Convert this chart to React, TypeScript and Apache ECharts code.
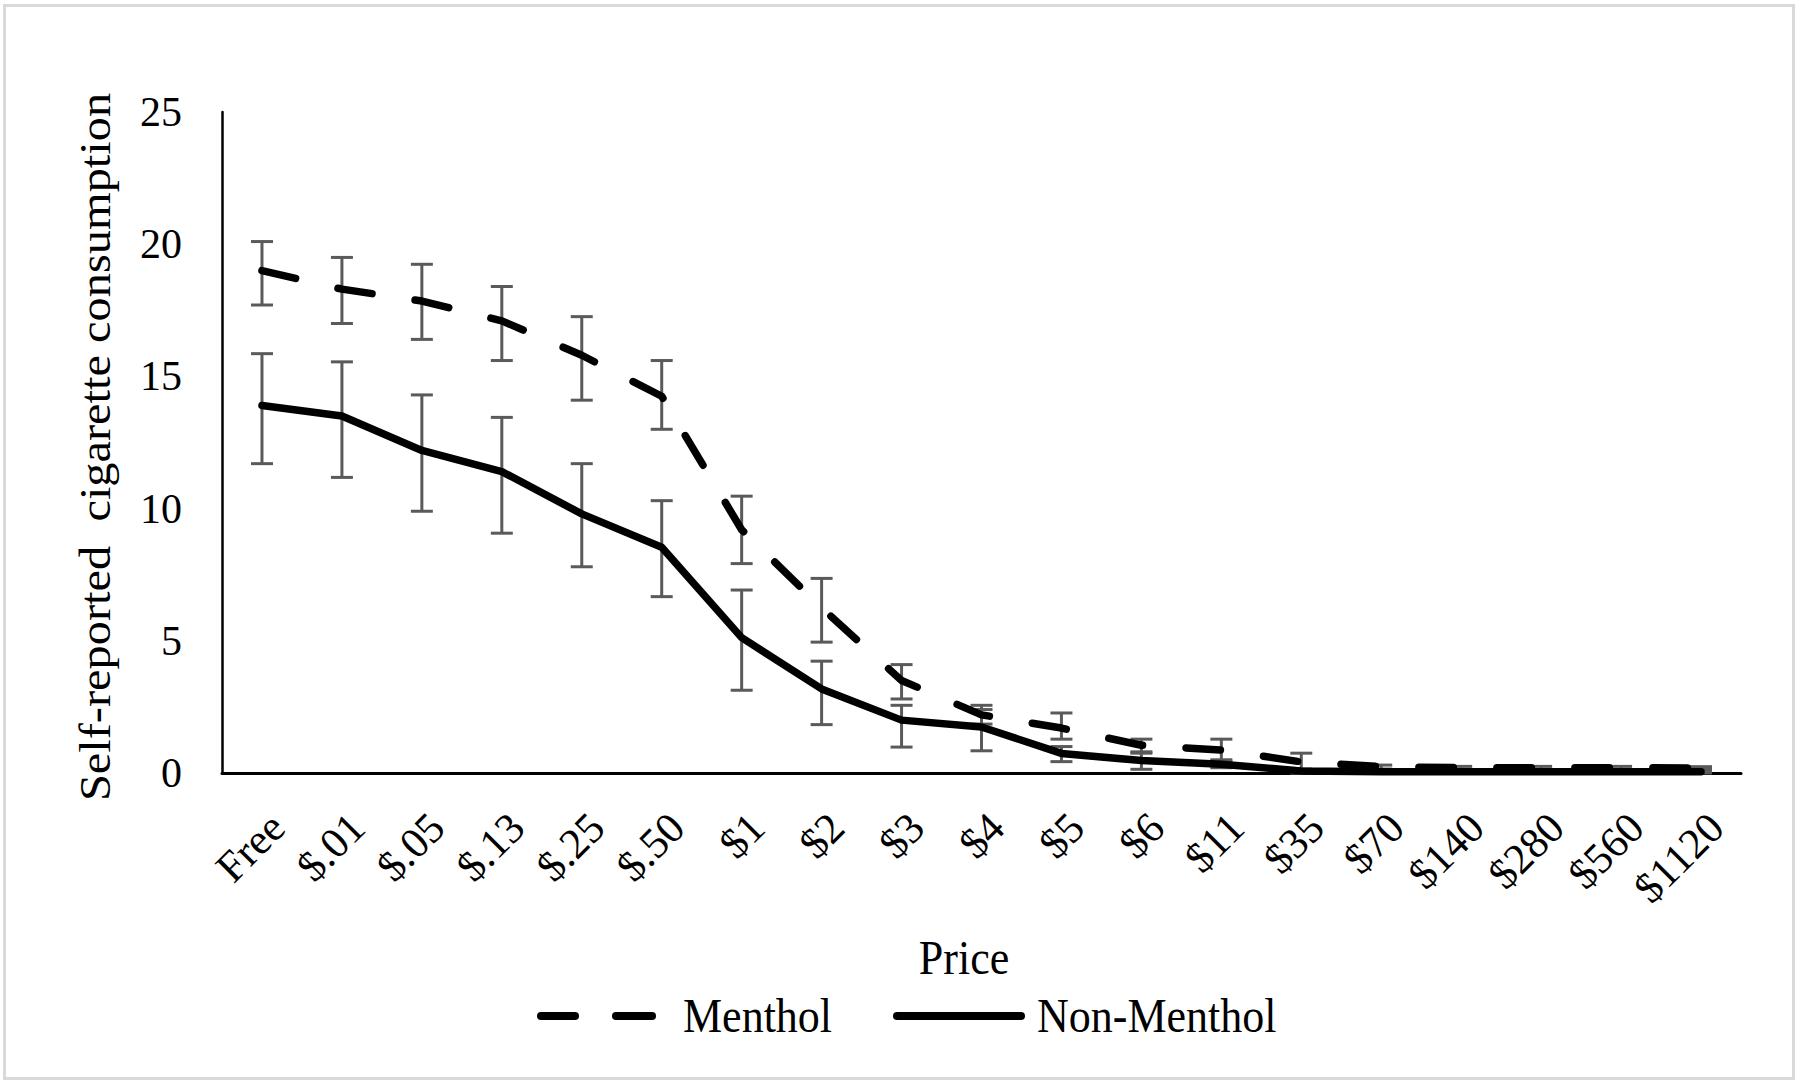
import React, { useEffect, useRef } from "react";
import * as echarts from "echarts";

const FONT = "'Liberation Serif', 'Times New Roman', serif";

const categories = ["Free", "$.01", "$.05", "$.13", "$.25", "$.50", "$1", "$2", "$3", "$4", "$5", "$6", "$11", "$35", "$70", "$140", "$280", "$560", "$1120"];

const mentholMean = [19.0, 18.3, 17.85, 17.1, 15.8, 14.25, 9.2, 6.25, 3.5, 2.2, 1.7, 1.05, 0.87, 0.42, 0.24, 0.2, 0.2, 0.2, 0.19];
const mentholLow = [17.7, 17.0, 16.4, 15.6, 14.1, 13.0, 7.92, 4.95, 2.8, 1.85, 1.28, 0.75, 0.5, 0.1, 0.15, 0.12, 0.12, 0.12, 0.15];
const mentholHigh = [20.1, 19.5, 19.24, 18.4, 17.26, 15.6, 10.47, 7.36, 4.1, 2.56, 2.27, 1.28, 1.28, 0.75, 0.3, 0.25, 0.25, 0.25, 0.24];

const nonMentholMean = [13.9, 13.5, 12.2, 11.4, 9.8, 8.54, 5.12, 3.18, 2.0, 1.74, 0.74, 0.47, 0.33, 0.08, 0.05, 0.05, 0.05, 0.05, 0.05];
const nonMentholLow = [11.7, 11.18, 9.9, 9.07, 7.8, 6.67, 3.13, 1.83, 0.98, 0.84, 0.43, 0.14, 0.2, 0.0, 0.0, 0.0, 0.0, 0.0, 0.0];
const nonMentholHigh = [15.86, 15.55, 14.3, 13.45, 11.7, 10.3, 6.92, 4.23, 2.56, 2.4, 1.0, 0.8, 0.45, 0.15, 0.1, 0.1, 0.1, 0.1, 0.1];

const yTicks = { min: 0, max: 25, interval: 5 };

const seriesNames = ["Menthol", "Non-Menthol"];
const xTitle = "Price";
const yTitle = "Self-reported  cigarette consumption";

function errorSeries(name: string, low: number[], high: number[]) {
  return {
    name,
    type: "custom",
    z: 1,
    clip: false,
    encode: { x: 0, y: [1, 2] },
    data: categories.map((_, i) => [i, low[i], high[i]]),
    renderItem: (params: any, api: any) => {
      const x = api.value(0);
      const pLo = api.coord([x, api.value(1)]);
      const pHi = api.coord([x, api.value(2)]);
      const hw = 11;
      const style = { stroke: "#5a5a5a", lineWidth: 3, fill: null };
      return {
        type: "group",
        children: [
          { type: "line", shape: { x1: pHi[0], y1: pHi[1], x2: pLo[0], y2: pLo[1] }, style },
          { type: "line", shape: { x1: pHi[0] - hw, y1: pHi[1], x2: pHi[0] + hw, y2: pHi[1] }, style },
          { type: "line", shape: { x1: pLo[0] - hw, y1: pLo[1], x2: pLo[0] + hw, y2: pLo[1] }, style },
        ],
      };
    },
  };
}

export default function App() {
  const ref = useRef<HTMLDivElement>(null);
  useEffect(() => {
    if (!ref.current) return;
    const chart = echarts.init(ref.current, null, { renderer: "svg" });
    chart.setOption({
      animation: false,
      backgroundColor: "#ffffff",
      textStyle: { fontFamily: FONT, color: "#000" },
      grid: { left: 222, right: 59, top: 112, bottom: 312, containLabel: false },
      xAxis: {
        type: "category",
        data: categories,
        boundaryGap: true,
        axisLine: { lineStyle: { color: "#000", width: 3 } },
        axisTick: { show: false },
        splitLine: { show: false },
        axisLabel: {
          interval: 0,
          rotate: 45,
          margin: 32,
          verticalAlign: "top",
          fontSize: 43,
          fontFamily: FONT,
          color: "#000",
        },
      },
      yAxis: {
        type: "value",
        min: yTicks.min,
        max: yTicks.max,
        interval: yTicks.interval,
        axisLine: { show: true, lineStyle: { color: "#000", width: 2.5 } },
        axisTick: { show: false },
        splitLine: { show: false },
        axisLabel: { fontSize: 42, fontFamily: FONT, color: "#000", margin: 40 },
      },
      graphic: [
        {
          type: "rect",
          shape: { x: 4.5, y: 5.5, width: 1789, height: 1073 },
          style: { fill: null, stroke: "#d9d9d9", lineWidth: 3 },
          silent: true,
          z: -1,
        },
        {
          type: "text",
          x: 95,
          y: 447,
          rotation: Math.PI / 2,
          scaleX: 1.1,
          style: { text: yTitle, font: `44px ${FONT}`, fill: "#000", textAlign: "center", textVerticalAlign: "middle" },
        },
        {
          type: "text",
          x: 964,
          y: 958,
          scaleY: 1.08,
          style: { text: xTitle, font: `44px ${FONT}`, fill: "#000", textAlign: "center", textVerticalAlign: "middle" },
        },
        {
          type: "line",
          shape: { x1: 541, y1: 1016, x2: 575, y2: 1016 },
          style: { stroke: "#000", lineWidth: 8, lineCap: "round" },
        },
        {
          type: "line",
          shape: { x1: 616, y1: 1016, x2: 652, y2: 1016 },
          style: { stroke: "#000", lineWidth: 8, lineCap: "round" },
        },
        {
          type: "text",
          x: 683,
          y: 1016,
          scaleY: 1.08,
          style: { text: seriesNames[0], font: `44px ${FONT}`, fill: "#000", textAlign: "left", textVerticalAlign: "middle" },
        },
        {
          type: "line",
          shape: { x1: 897, y1: 1016, x2: 1021, y2: 1016 },
          style: { stroke: "#000", lineWidth: 8, lineCap: "round" },
        },
        {
          type: "text",
          x: 1037,
          y: 1016,
          scaleY: 1.08,
          style: { text: seriesNames[1], font: `44px ${FONT}`, fill: "#000", textAlign: "left", textVerticalAlign: "middle" },
        },
      ],
      series: [
        errorSeries("Menthol error", mentholLow, mentholHigh),
        errorSeries("Non-Menthol error", nonMentholLow, nonMentholHigh),
        {
          name: seriesNames[0],
          type: "line",
          z: 3,
          data: mentholMean,
          symbol: "none",
          lineStyle: { color: "#000", width: 7.5, type: [34.5, 43.5], cap: "round", join: "round" },
        },
        {
          name: seriesNames[1],
          type: "line",
          z: 3,
          data: nonMentholMean,
          symbol: "none",
          lineStyle: { color: "#000", width: 7.5, type: "solid", cap: "round", join: "round" },
        },
      ],
    });
    return () => chart.dispose();
  }, []);
  return (
    <div
      ref={ref}
      style={{ position: "fixed", left: 0, top: 0, width: 1800, height: 1085, background: "#fff" }}
    />
  );
}
